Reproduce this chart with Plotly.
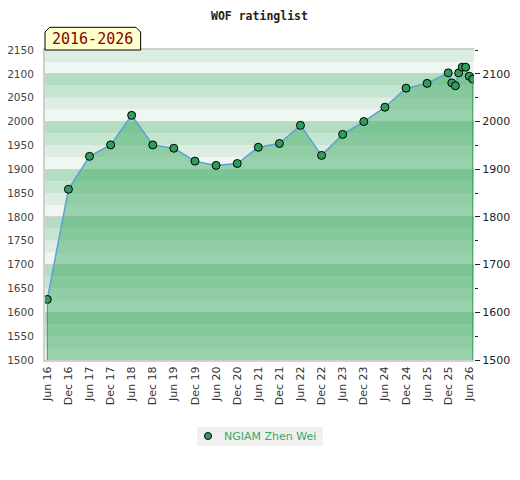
import plotly.graph_objects as go

# rating list dates (half-yearly, then monthly in 2026)
dates = ["2016-06-01", "2016-12-01", "2017-06-01", "2017-12-01", "2018-06-01",
         "2018-12-01", "2019-06-01", "2019-12-01", "2020-06-01", "2020-12-01",
         "2021-06-01", "2021-12-01", "2022-06-01", "2022-12-01", "2023-06-01",
         "2023-12-01", "2024-06-01", "2024-12-01", "2025-06-01", "2025-12-01",
         "2026-01-01", "2026-02-01", "2026-03-01", "2026-04-01", "2026-05-01",
         "2026-06-01", "2026-07-01"]
ratings = [1627, 1858, 1927, 1951, 2013, 1951, 1944, 1917, 1908, 1912,
           1946, 1954, 1992, 1929, 1973, 2000, 2030, 2070, 2080, 2102,
           2081, 2075, 2102, 2114, 2114, 2095, 2089]
player = "NGIAM Zhen Wei"
period = "2016-2026"
y_min, y_max = 1500, 2150

band_colors = ["#eff7f2", "#dcede2", "#c6e5d0", "#b3dcc1"]  # by position inside each 100 block

fig = go.Figure()

# rating area + line + points
fig.add_trace(go.Scatter(
    x=dates, y=ratings, mode="lines+markers", fill="tozeroy", name=player,
    fillcolor="rgba(67,171,102,0.5)",
    line=dict(color="#5aa2d8", width=1.5),
    marker=dict(color="#2f9e5b", size=8, line=dict(color="black", width=1)),
    showlegend=False, hoverinfo="x+y"))

# green edges of the filled area
fig.add_trace(go.Scatter(x=[dates[0], dates[0]], y=[y_min, ratings[0]], mode="lines",
                         line=dict(color="#3a9a5a", width=1), showlegend=False,
                         hoverinfo="skip", yaxis="y2"))
fig.add_trace(go.Scatter(x=[dates[-1], dates[-1]], y=[y_min, ratings[-1]], mode="lines",
                         line=dict(color="#3a9a5a", width=1), showlegend=False,
                         hoverinfo="skip", yaxis="y2"))

# striped background
shapes = []
for v in range(y_min, y_max, 25):
    shapes.append(dict(type="rect", xref="paper", yref="y", x0=0, x1=1, y0=v, y1=v + 25,
                       fillcolor=band_colors[(v % 100) // 25], line=dict(width=0),
                       layer="below"))

# period tab above the plot
shapes.append(dict(type="path", xref="paper", yref="paper",
                   path="M 0,1 L 0,1.058 L 0.011,1.0732 L 0.212,1.0732 L 0.223,1.058 L 0.223,1 Z",
                   fillcolor="#ffffcc", line=dict(color="black", width=1), layer="above"))

# hand-made legend box (plotly's own one is padded too much)
shapes.append(dict(type="rect", xref="paper", yref="paper", x0=0.3543, x1=0.648,
                   y0=-0.2774, y1=-0.2161, fillcolor="#f0f0f0", line=dict(width=0)))
shapes.append(dict(type="circle", xref="paper", yref="paper", xsizemode="pixel",
                   ysizemode="pixel", xanchor=0.38, yanchor=-0.2452,
                   x0=-3.5, x1=3.5, y0=-3.5, y1=3.5,
                   fillcolor="#2f9e5b", line=dict(color="black", width=1)))

# page body has an 8px margin, so the figure is 8px smaller than the window
fig.update_layout(
    width=512, height=472,
    margin=dict(l=37, r=46, t=42, b=120, autoexpand=False),
    paper_bgcolor="white", plot_bgcolor="white",
    showlegend=False,
    font=dict(family="DejaVu Sans", size=11, color="#333"),
    shapes=shapes,
    annotations=[dict(text="<b>WOF ratinglist</b>", xref="paper", yref="paper", x=0.5,
                      y=1.111, showarrow=False, xanchor="center", yanchor="middle",
                      font=dict(family="DejaVu Sans Mono", size=11.5, color="#222")),
                 dict(text=period, xref="paper", yref="paper", x=0.111, y=1.034,
                      showarrow=False, xanchor="center", yanchor="middle",
                      font=dict(family="DejaVu Sans Mono", size=15, color="#8b0000")),
                 dict(text=player, xref="paper", yref="paper", x=0.4126, y=-0.2452,
                      showarrow=False, xanchor="left", yanchor="middle",
                      font=dict(size=11, color="#3aa860"))],
    xaxis=dict(type="date", range=["2016-05-12", "2026-07-12"], tick0="2016-06-01",
               dtick="M6", tickformat="%b %y", tickangle=-90, ticks="", automargin=False,
               showgrid=False, showline=True, linecolor="#d0d0d0", linewidth=2,
               mirror=True, tickfont=dict(size=11, color="#333")),
    yaxis=dict(range=[y_min, y_max], dtick=50, showgrid=False, zeroline=False,
               showline=True, linecolor="#d0d0d0", linewidth=2, ticks="", automargin=False,
               ticklabelstandoff=7, tickfont=dict(size=10.5, color="#444")),
    yaxis2=dict(range=[y_min, y_max], overlaying="y", side="right", dtick=100,
                showgrid=True, gridcolor="#d4d4d4", gridwidth=1, zeroline=False,
                ticks="outside", ticklen=5, tickcolor="#222", automargin=False,
                minor=dict(dtick=50, ticks="outside", ticklen=3, tickcolor="#222"),
                tickfont=dict(size=11, color="#222")),
)

fig.write_html("out.html")
